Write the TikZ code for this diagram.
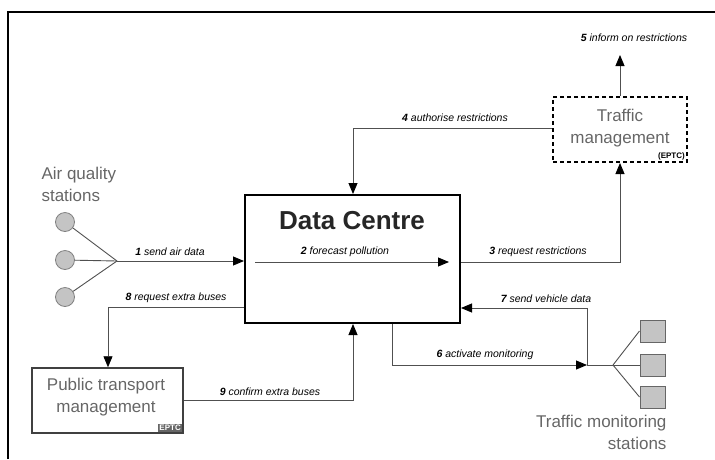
\documentclass[tikz,border=0pt]{standalone}
\usepackage{fontspec}
\setmainfont{Liberation Sans}
\usetikzlibrary{arrows.meta}
\definecolor{boxtext}{HTML}{666666}
\definecolor{linegray}{HTML}{505050}
\definecolor{stationfill}{HTML}{C4C4C4}
\tikzset{
  conn/.style={draw=linegray, line width=0.9pt},
  arr/.style={conn, -{Triangle[length=11pt,width=9pt,color=black]}},
  lbl/.style={font=\fontsize{10.5}{12}\selectfont\itshape, text=black, inner sep=1pt},
  boxtxt/.style={font=\fontsize{17}{22}\selectfont, text=boxtext, align=center},
  tag/.style={font=\fontsize{8}{9}\selectfont\bfseries, text=black, inner sep=1pt},
  station/.style={circle, draw=gray, fill=stationfill, minimum size=19pt, inner sep=0pt, line width=0.8pt},
  sqstation/.style={rectangle, draw=gray!80!black, fill=stationfill, minimum width=25pt, minimum height=22pt, inner sep=0pt, line width=1pt},
}
\begin{document}
\begin{tikzpicture}[x=1pt,y=-1pt]
\useasboundingbox (0,0) rectangle (715,459);
% frame
\draw[line width=2pt] (8,459) -- (8,12) -- (715,12);

% main boxes
\node[draw, line width=2pt, minimum width=215pt, minimum height=128pt, inner sep=0pt] (dc) at (352.5,259) {};
\node[font=\fontsize{26}{30}\selectfont\bfseries, text=black!85] (dctitle) at (352,221) {Data Centre};

\node[draw, dashed, dash pattern=on 4pt off 3pt, line width=2pt, minimum width=134pt, minimum height=65pt, inner sep=0pt] (tm) at (620,129.5) {};
\node[boxtxt] (tmtxt) at (620,128) {Traffic\\management};
\node[tag, anchor=south east] (tmtag) at (686,161) {(EPTC)};

\node[draw=black!75, line width=1.5pt, minimum width=151pt, minimum height=65pt, inner sep=0pt] (pt) at (107.5,400.5) {};
\node[boxtxt] (pttxt) at (106,397) {Public transport\\management};
\node[tag, anchor=south east, fill=black!60, text=white] (pttag) at (182,432) {EPTC};

% air quality stations
\node[station] (a1) at (65,222) {};
\node[station] (a2) at (65,260) {};
\node[station] (a3) at (65,297) {};
\coordinate (aj) at (117,261);
\node[boxtxt, align=left, anchor=west] (aqtxt) at (38,184) {Air quality\\stations};
\draw[conn] (a1) -- (aj);
\draw[conn] (a2) -- (aj);
\draw[conn] (a3) -- (aj);

% traffic monitoring stations
\node[sqstation] (s1) at (652.5,331) {};
\node[sqstation] (s2) at (652.5,365) {};
\node[sqstation] (s3) at (652.5,397) {};
\coordinate (sj) at (613,365);
\coordinate (v) at (587,365);
\node[boxtxt, align=right, anchor=east] (tmstxt) at (670,432) {Traffic monitoring\\stations};
\draw[conn] (sj) -- (s1.west);
\draw[conn] (sj) -- (s2.west);
\draw[conn] (sj) -- (s3.west);
\draw[conn] (v) -- (sj);

% 1 send air data
\draw[arr] (aj) -- (dc.west |- aj);
\node[lbl] (l1) at (170,252) {\textbf{1} send air data};

% 2 forecast pollution
\coordinate (c2a) at (255,262);
\coordinate (c2b) at (449,262);
\draw[arr] (c2a) -- (c2b);
\node[lbl] (l2) at (345,252) {\textbf{2} forecast pollution};

% 3 request restrictions
\coordinate (c3) at (620,262);
\draw[arr] (dc.east |- c3) -- (c3) -- (tm.south);
\node[lbl] (l3) at (538,252) {\textbf{3} request restrictions};

% 4 authorise restrictions
\coordinate (c4) at (353,128);
\draw[arr] (tm.west |- c4) -- (c4) -- (dc.north -| c4);
\node[lbl] (l4) at (455,118) {\textbf{4} authorise restrictions};

% 5 inform on restrictions
\coordinate (c5) at (620,55);
\draw[arr] (tm.north) -- (c5);
\node[lbl] (l5) at (634,38) {\textbf{5} inform on restrictions};

% 6 activate monitoring
\coordinate (c6) at (392,365);
\draw[arr] (dc.south -| c6) -- (c6) -- (v);
\node[lbl] (l6) at (485,355) {\textbf{6} activate monitoring};

% 7 send vehicle data
\coordinate (c7) at (587,308);
\draw[arr] (v) -- (c7) -- (dc.east |- c7);
\node[lbl] (l7) at (546,299) {\textbf{7} send vehicle data};

% 8 request extra buses
\coordinate (c8) at (108,307);
\draw[arr] (dc.west |- c8) -- (c8) -- (pt.north -| c8);
\node[lbl] (l8) at (176,298) {\textbf{8} request extra buses};

% 9 confirm extra buses
\coordinate (c9) at (353,400);
\draw[arr] (pt.east |- c9) -- (c9) -- (dc.south -| c9);
\node[lbl] (l9) at (270,392) {\textbf{9} confirm extra buses};
\end{tikzpicture}
\end{document}
